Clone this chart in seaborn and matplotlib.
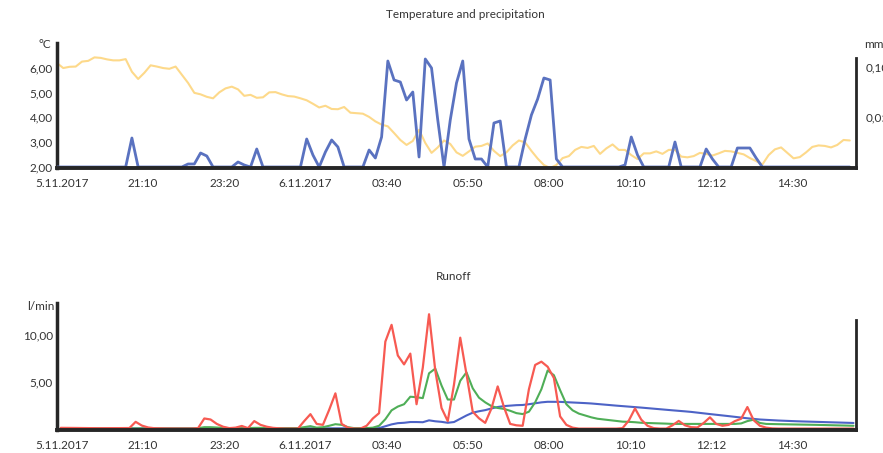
"""
Temperature / precipitation and runoff chart (two panels)
"""

import numpy as np
import pandas as pd
import matplotlib
matplotlib.use('Agg')
import matplotlib.pyplot as plt
import seaborn as sns

# ---- data (10 minute samples) ----
temperature = [
    6.19, 5.99, 6.04, 6.05, 6.25, 6.28, 6.42, 6.40, 6.34, 6.30,
    6.30, 6.35, 5.84, 5.55, 5.80, 6.10, 6.05, 5.99, 5.96, 6.05,
    5.72, 5.39, 4.99, 4.93, 4.83, 4.77, 5.01, 5.17, 5.24, 5.13,
    4.87, 4.91, 4.79, 4.81, 5.01, 5.02, 4.93, 4.86, 4.84, 4.77,
    4.69, 4.55, 4.40, 4.47, 4.34, 4.33, 4.42, 4.19, 4.17, 4.15,
    4.02, 3.84, 3.71, 3.64, 3.37, 3.09, 2.89, 3.05, 3.50, 2.97,
    2.57, 2.79, 3.07, 2.93, 2.59, 2.45, 2.63, 2.82, 2.85, 2.95,
    2.65, 2.44, 2.59, 2.87, 3.07, 2.99, 2.65, 2.34, 2.08, 1.96,
    2.08, 2.36, 2.44, 2.69, 2.81, 2.77, 2.85, 2.53, 2.75, 2.91,
    2.69, 2.69, 2.48, 2.32, 2.55, 2.55, 2.63, 2.53, 2.69, 2.69,
    2.42, 2.39, 2.44, 2.57, 2.53, 2.46, 2.55, 2.65, 2.63, 2.57,
    2.51, 2.36, 2.24, 2.10, 2.48, 2.71, 2.79, 2.57, 2.35, 2.40,
    2.59, 2.81, 2.87, 2.85, 2.79, 2.89, 3.09, 3.07,
]

precipitation = [
    0.0, 0.0, 0.0, 0.0, 0.0, 0.0, 0.0, 0.0, 0.0, 0.0,
    0.0, 0.0, 0.029, 0.0, 0.0, 0.0, 0.0, 0.0, 0.0, 0.0,
    0.0, 0.003, 0.003, 0.014, 0.011, 0.0, 0.0, 0.0, 0.0, 0.005,
    0.002, 0.0, 0.018, 0.0, 0.0, 0.0, 0.0, 0.0, 0.0, 0.0,
    0.028, 0.012, 0.0, 0.015, 0.027, 0.020, 0.0, 0.0, 0.0, 0.0,
    0.017, 0.009, 0.030, 0.106, 0.087, 0.085, 0.067, 0.075, 0.010, 0.108,
    0.099, 0.047, 0.0, 0.047, 0.084, 0.106, 0.028, 0.008, 0.008, 0.0,
    0.044, 0.046, 0.0, 0.0, 0.0, 0.028, 0.052, 0.068, 0.089, 0.087,
    0.008, 0.0, 0.0, 0.0, 0.0, 0.0, 0.0, 0.0, 0.0, 0.0,
    0.0, 0.002, 0.030, 0.012, 0.0, 0.0, 0.0, 0.0, 0.0, 0.025,
    0.0, 0.0, 0.0, 0.0, 0.018, 0.008, 0.0, 0.0, 0.0, 0.019,
    0.019, 0.019, 0.009, 0.0, 0.0, 0.0, 0.0, 0.0, 0.0, 0.0,
    0.0, 0.0, 0.0, 0.0, 0.0, 0.0, 0.0, 0.0,
]

runoff_red = [
    0.08, 0.08, 0.07, 0.06, 0.05, 0.05, 0.04, 0.04, 0.05, 0.05,
    0.06, 0.06, 0.72, 0.32, 0.12, 0.04, 0.02, 0.01, 0.0, 0.0,
    0.0, 0.0, 0.05, 1.08, 0.97, 0.50, 0.20, 0.05, 0.10, 0.28,
    0.05, 0.80, 0.40, 0.20, 0.08, 0.03, 0.0, 0.0, 0.0, 0.80,
    1.54, 0.50, 0.40, 2.00, 3.76, 0.50, 0.10, 0.0, 0.0, 0.30,
    1.08, 1.65, 9.28, 11.07, 7.80, 6.85, 8.00, 2.60, 6.50, 12.20,
    6.20, 2.20, 0.80, 4.70, 9.70, 5.80, 1.80, 1.10, 0.61, 2.15,
    4.50, 2.30, 0.50, 0.35, 0.30, 4.20, 6.79, 7.14, 6.60, 5.40,
    1.30, 0.40, 0.10, 0.0, 0.0, 0.0, 0.0, 0.0, 0.0, 0.0,
    0.05, 0.85, 2.15, 0.95, 0.30, 0.05, 0.0, 0.0, 0.35, 0.82,
    0.35, 0.15, 0.12, 0.60, 1.20, 0.50, 0.30, 0.40, 0.80, 1.05,
    2.30, 0.90, 0.30, 0.10, 0.02, 0.0, 0.0, 0.0, 0.0, 0.0,
    0.0, 0.0, 0.0, 0.0, 0.0, 0.0, 0.0, 0.0,
]

runoff_green = [
    0.02, 0.02, 0.02, 0.02, 0.02, 0.02, 0.02, 0.02, 0.02, 0.02,
    0.02, 0.02, 0.02, 0.02, 0.02, 0.02, 0.02, 0.02, 0.02, 0.02,
    0.02, 0.02, 0.05, 0.15, 0.15, 0.12, 0.08, 0.05, 0.05, 0.05,
    0.05, 0.08, 0.08, 0.04, 0.04, 0.04, 0.04, 0.04, 0.05, 0.15,
    0.26, 0.10, 0.15, 0.30, 0.47, 0.40, 0.15, 0.05, 0.05, 0.05,
    0.10, 0.30, 1.00, 1.95, 2.35, 2.60, 3.40, 3.35, 3.25, 5.90,
    6.40, 4.60, 3.10, 3.10, 5.10, 6.00, 4.30, 3.30, 2.80, 2.40,
    2.20, 2.10, 1.90, 1.65, 1.55, 1.80, 2.80, 4.20, 6.20, 5.70,
    4.10, 2.60, 1.95, 1.60, 1.40, 1.20, 1.05, 0.97, 0.90, 0.80,
    0.74, 0.72, 0.68, 0.62, 0.60, 0.58, 0.56, 0.53, 0.50, 0.50,
    0.50, 0.50, 0.50, 0.50, 0.50, 0.50, 0.50, 0.50, 0.50, 0.55,
    0.80, 0.95, 0.60, 0.50, 0.48, 0.47, 0.46, 0.45, 0.44, 0.42,
    0.41, 0.40, 0.38, 0.37, 0.35, 0.34, 0.32, 0.30,
]

runoff_blue = [
    0.02, 0.02, 0.02, 0.02, 0.02, 0.02, 0.02, 0.02, 0.02, 0.02,
    0.02, 0.02, 0.02, 0.02, 0.02, 0.02, 0.02, 0.02, 0.02, 0.02,
    0.02, 0.02, 0.02, 0.02, 0.02, 0.02, 0.02, 0.02, 0.02, 0.02,
    0.02, 0.02, 0.02, 0.02, 0.02, 0.02, 0.02, 0.02, 0.02, 0.02,
    0.02, 0.02, 0.02, 0.02, 0.02, 0.02, 0.02, 0.02, 0.02, 0.02,
    0.03, 0.05, 0.25, 0.45, 0.58, 0.62, 0.70, 0.70, 0.68, 0.88,
    0.78, 0.72, 0.62, 0.70, 1.05, 1.40, 1.70, 1.85, 1.97, 2.15,
    2.30, 2.40, 2.45, 2.50, 2.52, 2.60, 2.70, 2.80, 2.86, 2.86,
    2.85, 2.82, 2.80, 2.76, 2.72, 2.68, 2.62, 2.56, 2.50, 2.45,
    2.40, 2.35, 2.30, 2.24, 2.18, 2.12, 2.06, 2.00, 1.95, 1.90,
    1.84, 1.78, 1.70, 1.63, 1.55, 1.48, 1.40, 1.33, 1.25, 1.18,
    1.10, 1.03, 0.97, 0.93, 0.89, 0.86, 0.83, 0.80, 0.78, 0.76,
    0.74, 0.72, 0.70, 0.68, 0.66, 0.64, 0.62, 0.60,
]

tick_labels = ['5.11.2017', '21:10', '23:20', '6.11.2017', '03:40',
               '05:50', '08:00', '10:10', '12:12', '14:30']

temp_times = pd.date_range('2017-11-05 19:00', periods=len(temperature), freq='10min')
runoff_times = pd.date_range('2017-11-05 19:06', periods=len(runoff_red), freq='10min')
tick_times = pd.date_range('2017-11-05 19:08', periods=len(tick_labels), freq='130min')
x_start = pd.Timestamp('2017-11-05 19:00')
x_end = pd.Timestamp('2017-11-06 16:20')

# ---- style ----
sns.set_theme(style='white')
plt.rcParams['font.family'] = ['Lato', 'DejaVu Sans']
TEXT = '#333333'
SPINE = '#262626'
FS = 8.5


def comma(v, digits=2):
    return f'{v:.{digits}f}'.replace('.', ',')


def style_axis(ax):
    for side in ['top', 'right', 'left', 'bottom']:
        ax.spines[side].set_visible(False)
    ax.tick_params(length=0, labelsize=FS, colors=TEXT)
    ax.set_xlabel('')
    ax.set_ylabel('')


fig = plt.figure(figsize=(8.83, 4.53), dpi=100)
W, H = 883, 453
ax_top = fig.add_axes([57 / W, 1 - 168 / H, 799 / W, 125 / H])
ax_bot = fig.add_axes([57 / W, 1 - 430 / H, 799 / W, 127 / H])

# ---- top panel: temperature (left) + precipitation (right) ----
sns.lineplot(x=temp_times, y=temperature, ax=ax_top, color='#fdd98a', linewidth=1.5)
ax_top.set_ylim(1.96, 7.0)
ax_top.set_xlim(x_start, x_end)
style_axis(ax_top)
ax_top.spines['left'].set_visible(True)
ax_top.spines['left'].set_color(SPINE)
ax_top.spines['left'].set_linewidth(2.5)
ax_top.set_yticks([2, 3, 4, 5, 6])
ax_top.set_yticklabels([comma(v) for v in [2, 3, 4, 5, 6]])
ax_top.tick_params(axis='y', pad=3)
ax_top.set_xticks(tick_times)
ax_top.set_xticklabels(tick_labels)
ax_top.tick_params(axis='x', pad=7)

ax_prec = ax_top.twinx()
sns.lineplot(x=temp_times, y=precipitation, ax=ax_prec, color='#5a72c0', linewidth=2.0)
ax_prec.set_ylim(-0.001, 0.124)
ax_prec.set_xlim(x_start, x_end)
style_axis(ax_prec)
for side in ['right', 'bottom']:
    ax_prec.spines[side].set_visible(True)
    ax_prec.spines[side].set_color(SPINE)
ax_prec.spines['bottom'].set_linewidth(2.8)
ax_prec.spines['right'].set_linewidth(2.0)
ax_prec.spines['right'].set_bounds(-0.001, 0.109)
ax_prec.set_yticks([0.05, 0.10])
ax_prec.set_yticklabels([comma(v) for v in [0.05, 0.10]])
ax_prec.tick_params(axis='y', pad=7)

# ---- bottom panel: runoff ----
sns.lineplot(x=runoff_times, y=runoff_blue, ax=ax_bot, color='#4d63c6', linewidth=1.5)
sns.lineplot(x=runoff_times, y=runoff_green, ax=ax_bot, color='#4fae57', linewidth=1.5)
sns.lineplot(x=runoff_times, y=runoff_red, ax=ax_bot, color='#f75a52', linewidth=1.6)
ax_bot.set_ylim(-0.15, 13.4)
ax_bot.set_xlim(x_start, x_end)
style_axis(ax_bot)
for side in ['left', 'bottom', 'right']:
    ax_bot.spines[side].set_visible(True)
    ax_bot.spines[side].set_color(SPINE)
ax_bot.spines['left'].set_linewidth(2.5)
ax_bot.spines['bottom'].set_linewidth(2.8)
ax_bot.spines['right'].set_linewidth(2.0)
ax_bot.spines['right'].set_bounds(-0.15, 11.6)
ax_bot.set_yticks([5, 10])
ax_bot.set_yticklabels([comma(v) for v in [5, 10]])
ax_bot.tick_params(axis='y', pad=3)
ax_bot.set_xticks(tick_times)
ax_bot.set_xticklabels(tick_labels)
ax_bot.tick_params(axis='x', pad=7)

# ---- titles and unit labels ----
fig.text(465 / W, 1 - 15 / H, 'Temperature and precipitation', ha='center', va='center',
         fontsize=FS, color=TEXT)
fig.text(454 / W, 1 - 276 / H, 'Runoff', ha='center', va='center', fontsize=FS, color=TEXT)
fig.text(51 / W, 1 - 45 / H, '°C', ha='right', va='center', fontsize=FS, color=TEXT)
fig.text(864 / W, 1 - 45 / H, 'mm', ha='left', va='center', fontsize=FS, color=TEXT)
fig.text(54 / W, 1 - 306 / H, 'l/min', ha='right', va='center', fontsize=FS, color=TEXT)

fig.savefig('out.png', dpi=100)
